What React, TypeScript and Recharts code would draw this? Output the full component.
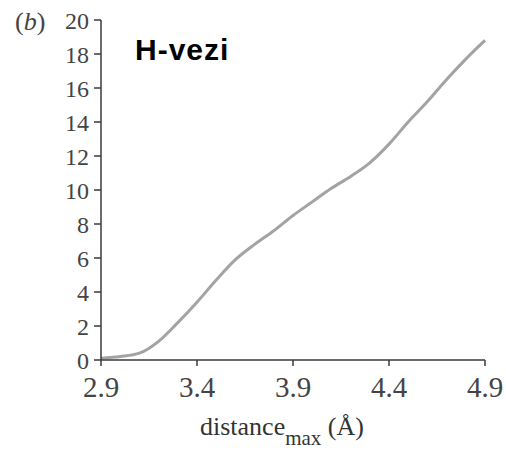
import { LineChart, Line, XAxis, YAxis } from "recharts";

const distances = [2.9, 3.0, 3.1, 3.2, 3.3, 3.4, 3.5, 3.6, 3.7, 3.8, 3.9, 4.0, 4.1, 4.2, 4.3, 4.4, 4.5, 4.6, 4.7, 4.8, 4.9];
const values = [0.1, 0.2, 0.4, 1.1, 2.2, 3.4, 4.7, 5.9, 6.8, 7.6, 8.5, 9.3, 10.1, 10.8, 11.6, 12.7, 14.0, 15.2, 16.5, 17.7, 18.8];
const xTicks = [2.9, 3.4, 3.9, 4.4, 4.9];
const yTicks = [0, 2, 4, 6, 8, 10, 12, 14, 16, 18, 20];

const data = distances.map((d, i) => ({ d, v: values[i] }));

const serif = "'Liberation Serif', 'Times New Roman', serif";
const axisColor = "#3a3a3a";

const AxisTitle = (props: any) => {
  const { viewBox } = props;
  const y = viewBox.y + 75;
  return (
    <text x={200} y={y} fontFamily={serif} fill="#333" fontSize={26}>
      distance
      <tspan fontSize={21} dy={10}>max</tspan>
      <tspan dy={-10}> (Å)</tspan>
    </text>
  );
};

export default function App() {
  return (
    <div style={{ position: "absolute", left: 0, top: 0, width: 506, height: 452, background: "#fff" }}>
      <div style={{ position: "absolute", left: 15, top: 9, fontFamily: serif, fontSize: 26, color: "#444", lineHeight: 1 }}>
        (<i>b</i>)
      </div>
      <div style={{ position: "absolute", left: 135, top: 35, fontFamily: "'Liberation Sans', Arial, sans-serif", fontWeight: "bold", fontSize: 30, letterSpacing: 1, color: "#000", lineHeight: 1 }}>
        H-vezi
      </div>
      <LineChart width={506} height={452} data={data} margin={{ top: 20, right: 21, bottom: 62, left: 0 }}>
        <XAxis
          dataKey="d"
          type="number"
          domain={[2.9, 4.9]}
          ticks={xTicks}
          interval={0}
          tickFormatter={(v: number) => v.toFixed(1)}
          stroke={axisColor}
          strokeWidth={1.5}
          tickSize={6}
          tickMargin={10}
          tick={{ fontFamily: serif, fontSize: 29, fill: "#444" }}
          label={<AxisTitle />}
        />
        <YAxis
          type="number"
          domain={[0, 20]}
          ticks={yTicks}
          interval={0}
          width={101}
          stroke={axisColor}
          strokeWidth={1.5}
          tickSize={7}
          tickMargin={5}
          tick={{ fontFamily: serif, fontSize: 24, fill: "#444" }}
        />
        <Line
          dataKey="v"
          type="monotone"
          stroke="#a3a3a3"
          strokeWidth={3}
          dot={false}
          isAnimationActive={false}
        />
      </LineChart>
    </div>
  );
}
